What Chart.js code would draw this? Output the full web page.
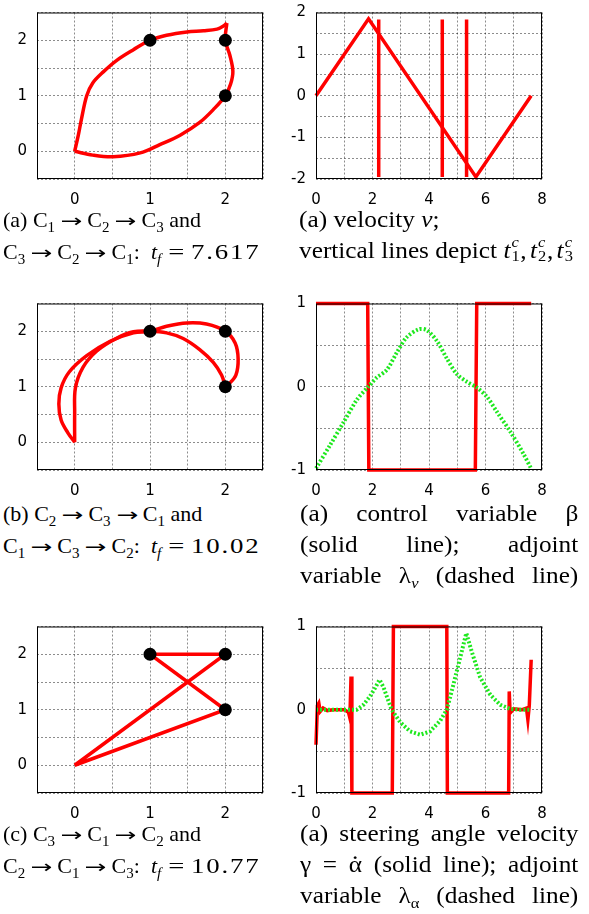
<!DOCTYPE html>
<html>
<head>
<meta charset="utf-8">
<script src="https://cdn.jsdelivr.net/npm/chart.js@4/dist/chart.umd.min.js"></script>
<style>
body { margin: 0; width: 589px; height: 914px; position: relative; background: #fff; overflow: hidden; }
.box { position: absolute; }
.cap { position: absolute; font-family: "Liberation Serif", serif; font-size: 22px; line-height: 31px; color: #000; white-space: nowrap; }
.cap sub { font-size: 15px; vertical-align: -5px; line-height: 0; }
.rc { font-size: 23px; transform: scaleX(1.1); transform-origin: left top; }
.j { text-align: justify; text-align-last: justify; }
.ar { display: inline-block; font-family: "DejaVu Sans", sans-serif; font-size: 18px; transform: scaleX(1.45); margin: 0 8px 0 9px; }
.eq { display: inline-block; transform: scaleX(1.3); margin: 0 8px 0 9px; }
.num { display: inline-block; transform: scaleX(1.22); transform-origin: left center; letter-spacing: 1.5px; }
.ss { display: inline-block; position: relative; width: 9px; height: 23px; }
.ss span { position: absolute; left: 1px; font-size: 15px; line-height: 15px; }
.cm { margin-right: 3px; }
.dot { display: inline-block; position: relative; }
.dot span { position: absolute; left: 3px; top: -13px; }
</style>
</head>
<body>

<div class="box" style="left:0;top:-5px"><canvas id="p1" width="290" height="212"></canvas></div>
<div class="box" style="left:270px;top:-5px"><canvas id="v1" width="319" height="212"></canvas></div>
<div class="box" style="left:0;top:286px"><canvas id="p2" width="290" height="212"></canvas></div>
<div class="box" style="left:270px;top:286px"><canvas id="v2" width="319" height="212"></canvas></div>
<div class="box" style="left:0;top:609px"><canvas id="p3" width="290" height="212"></canvas></div>
<div class="box" style="left:270px;top:609px"><canvas id="v3" width="319" height="212"></canvas></div>

<div class="cap" style="left:3px;top:204px">
<div>(a) C<sub>1</sub><span class="ar">→</span>C<sub>2</sub><span class="ar">→</span>C<sub>3</sub> and</div>
<div>C<sub>3</sub><span class="ar">→</span>C<sub>2</sub><span class="ar">→</span>C<sub>1</sub>:&nbsp; <i>t</i><sub><i>f</i></sub><span class="eq">=</span><span class="num">7.617</span></div>
</div>
<div class="cap rc" style="left:299px;top:204px">
<div>(a) velocity <i>v</i>;</div>
<div>vertical lines depict <i>t</i><span class="ss"><span style="top:0"><i>c</i></span><span style="top:14px">1</span></span><span class="cm">,</span><i>t</i><span class="ss"><span style="top:0"><i>c</i></span><span style="top:14px">2</span></span><span class="cm">,</span><i>t</i><span class="ss"><span style="top:0"><i>c</i></span><span style="top:14px">3</span></span></div>
</div>

<div class="cap" style="left:3px;top:498px">
<div>(b) C<sub>2</sub><span class="ar">→</span>C<sub>3</sub><span class="ar">→</span>C<sub>1</sub> and</div>
<div>C<sub>1</sub><span class="ar">→</span>C<sub>3</sub><span class="ar">→</span>C<sub>2</sub>:&nbsp; <i>t</i><sub><i>f</i></sub><span class="eq">=</span><span class="num">10.02</span></div>
</div>
<div class="cap rc" style="left:300px;top:498px;width:253px">
<div class="j">(a) control variable β</div>
<div class="j">(solid line); adjoint</div>
<div class="j">variable λ<sub><i>v</i></sub> (dashed line)</div>
</div>

<div class="cap" style="left:3px;top:818px">
<div>(c) C<sub>3</sub><span class="ar">→</span>C<sub>1</sub><span class="ar">→</span>C<sub>2</sub> and</div>
<div>C<sub>2</sub><span class="ar">→</span>C<sub>1</sub><span class="ar">→</span>C<sub>3</sub>:&nbsp; <i>t</i><sub><i>f</i></sub><span class="eq">=</span><span class="num">10.77</span></div>
</div>
<div class="cap rc" style="left:300px;top:818px;width:253px">
<div class="j">(a) steering angle velocity</div>
<div class="j">γ = <span class="dot">α<span>.</span></span> (solid line); adjoint</div>
<div class="j">variable λ<sub>α</sub> (dashed line)</div>
</div>

<script>
// ---- trajectories (x, y) ----
const cities = [[1, 2], [2, 2], [2, 1]];

// (a) C1 -> C2 -> C3 and back
const path1a = [[0, 0], [0.05, 0.3], [0.09, 0.58], [0.16, 1.0], [0.24, 1.23], [0.38, 1.43], [0.55, 1.63], [0.78, 1.83], [1, 2],
  [1.22, 2.09], [1.49, 2.15], [1.71, 2.17], [1.89, 2.2], [1.98, 2.26], [2.02, 2.31]];
const path1b = [[2.02, 2.31], [2.0, 2.0], [2.06, 1.73], [2.1, 1.44], [2.07, 1.21], [2, 1], [1.84, 0.75], [1.66, 0.52],
  [1.4, 0.29], [1.13, 0.12], [0.87, -0.03], [0.51, -0.1], [0.24, -0.07], [0, 0]];

// (b) outer and inner loops
const path2a = [[0, 0], [-0.09, 0.17], [-0.18, 0.4], [-0.21, 0.69], [-0.18, 0.98], [-0.07, 1.27], [0.16, 1.56], [0.47, 1.82],
  [0.78, 1.97], [1, 2.0], [1.22, 2.09], [1.49, 2.15], [1.75, 2.13], [2, 2], [2.13, 1.79], [2.17, 1.5], [2.14, 1.21], [2.04, 1.04], [2, 1]];
const path2b = [[2, 1], [1.95, 1.21], [1.84, 1.44], [1.66, 1.67], [1.44, 1.87], [1.22, 1.97], [1, 2], [0.78, 1.99], [0.55, 1.87],
  [0.29, 1.64], [0.11, 1.35], [0.01, 0.98], [0, 0.52], [0, 0]];

// (c) straight legs
const path3 = [[0, 0], [2, 1], [1, 2], [2, 2], [0, 0]];

// ---- time series (t, value) ----
const velocity = [[0, 0], [1.86, 1.85], [5.66, -1.95], [7.617, 0]];
const tSwitch = [2.22, 4.47, 5.33];
const tSwitchSpan = [-1.95, 1.83];

const beta = [[0, 1], [1.83, 1], [1.87, -1], [5.64, -1], [5.69, 1], [7.617, 1]];
const lambdaV = [[0, -0.98], [0.5, -0.7], [0.97, -0.43], [1.44, -0.16], [1.82, -0.01], [2.15, 0.11], [2.5, 0.2], [2.86, 0.41],
  [3.2, 0.59], [3.63, 0.69], [3.92, 0.68], [4.28, 0.55], [4.63, 0.34], [4.99, 0.15], [5.34, 0.06], [5.7, -0.01],
  [6.05, -0.12], [6.4, -0.3], [6.88, -0.54], [7.35, -0.81], [7.61, -0.98]];

const gamma = [[0, -0.42], [0.05, 0.05], [0.1, 0.08], [0.15, -0.02], [0.25, 0.02], [0.4, -0.01], [0.6, 0.0], [1.0, 0.0],
  [1.15, -0.03], [1.2, -0.1], [1.24, 0.4], [1.27, -1], [2.7, -1], [2.74, 1], [4.63, 1], [4.65, -1], [6.82, -1],
  [6.84, 0.22], [6.87, -0.04], [7.0, 0.01], [7.3, 0], [7.45, 0.02], [7.5, -0.12], [7.55, 0.05], [7.617, 0.6]];
const lambdaA = [[0, 0], [0.6, 0], [1.3, 0], [1.44, 0.0], [1.68, 0.06], [1.91, 0.16], [2.09, 0.26], [2.25, 0.36],
  [2.39, 0.27], [2.57, 0.1], [2.68, 0], [2.98, -0.15], [3.33, -0.26], [3.69, -0.3], [4.04, -0.26], [4.4, -0.13],
  [4.63, 0], [4.87, 0.31], [5.1, 0.62], [5.32, 0.92], [5.52, 0.69], [5.81, 0.39], [6.17, 0.18], [6.52, 0.06],
  [6.88, 0.01], [7.2, 0], [7.61, 0]];

const red = "#ff0000";
const green = "#1ee81e";

const toXY = (pts) => pts.map(p => ({ x: p[0], y: p[1] }));

lineSet = (pts, color, extra) => Object.assign({
  data: toXY(pts), showLine: true, borderColor: color, backgroundColor: color,
  borderWidth: 3.5, pointRadius: 0, tension: 0, clip: false
}, extra || {});

dotSet = (pts) => ({
  data: toXY(pts), showLine: false, pointRadius: 6.5, pointHoverRadius: 6.5,
  pointBackgroundColor: "#000", pointBorderColor: "#000", pointBorderWidth: 0, clip: false
});

// full box around plot area, like gnuplot's border
const frame = {
  id: "frame",
  afterDraw(chart) {
    const a = chart.chartArea, ctx = chart.ctx;
    ctx.save();
    ctx.setLineDash([]);
    ctx.strokeStyle = "#000";
    ctx.lineWidth = 1;
    ctx.strokeRect(a.left + 0.5, a.top + 0.5, a.right - a.left - 1, a.bottom - a.top - 1);
    ctx.restore();
  }
};

axis = (pos, min, max, step, showLabel, size) => ({
  type: "linear", position: pos, min: min, max: max,
  ticks: {
    stepSize: step, autoSkip: false, maxRotation: 0, color: "#000",
    padding: pos === "left" ? 10 : 14,
    font: { family: "DejaVu Sans", size: 15, lineHeight: 1 },
    callback: (v) => showLabel(v) ? String(v) : ""
  },
  grid: { color: "rgba(0,0,0,0.45)", lineWidth: 1, drawTicks: false },
  border: { display: false, dash: [2, 2] },
  afterFit: (s) => { if (pos === "left") s.width = size; else s.height = size; }
});

const isInt = (v) => Math.abs(v - Math.round(v)) < 1e-9;
const isEven = (v) => isInt(v) && Math.round(v) % 2 === 0;

makeChart = (id, datasets, xr, yr, isLeft) => {
  new Chart(document.getElementById(id), {
    type: "scatter",
    data: { datasets: datasets },
    options: {
      responsive: false, animation: false, events: [],
      layout: { padding: { top: 10, right: isLeft ? 27 : 47, left: 0, bottom: 0 } },
      plugins: { legend: { display: false }, tooltip: { enabled: false } },
      scales: {
        x: axis("bottom", xr[0], xr[1], xr[2], xr[3], 28),
        y: axis("left", yr[0], yr[1], yr[2], yr[3], isLeft ? 37 : 46)
      }
    },
    plugins: [frame]
  });
};

const mapX = [-0.5, 2.5, 0.5, isInt];
const mapY = [-0.5, 2.5, 0.5, isInt];
const timeX = [0, 8, 1, isEven];

makeChart("p1", [dotSet(cities), lineSet(path1a, red, { tension: 0.35 }), lineSet(path1b, red, { tension: 0.35 })], mapX, mapY, true);
makeChart("p2", [dotSet(cities), lineSet(path2a, red, { tension: 0.35 }), lineSet(path2b, red, { tension: 0.35 })], mapX, mapY, true);
makeChart("p3", [dotSet(cities), lineSet(path3, red)], mapX, mapY, true);

const switchLines = tSwitch.map(t => lineSet([[t, tSwitchSpan[0]], [t, tSwitchSpan[1]]], red));
makeChart("v1", [lineSet(velocity, red)].concat(switchLines), timeX, [-2, 2, 0.5, isInt], false);
makeChart("v2", [lineSet(lambdaV, green, { borderDash: [2, 2], tension: 0.3, borderWidth: 4 }), lineSet(beta, red)],
  timeX, [-1, 1, 0.5, isInt], false);
makeChart("v3", [lineSet(lambdaA, green, { borderDash: [2, 2], borderWidth: 4 }), lineSet(gamma, red)],
  timeX, [-1, 1, 0.5, isInt], false);
</script>
</body>
</html>
